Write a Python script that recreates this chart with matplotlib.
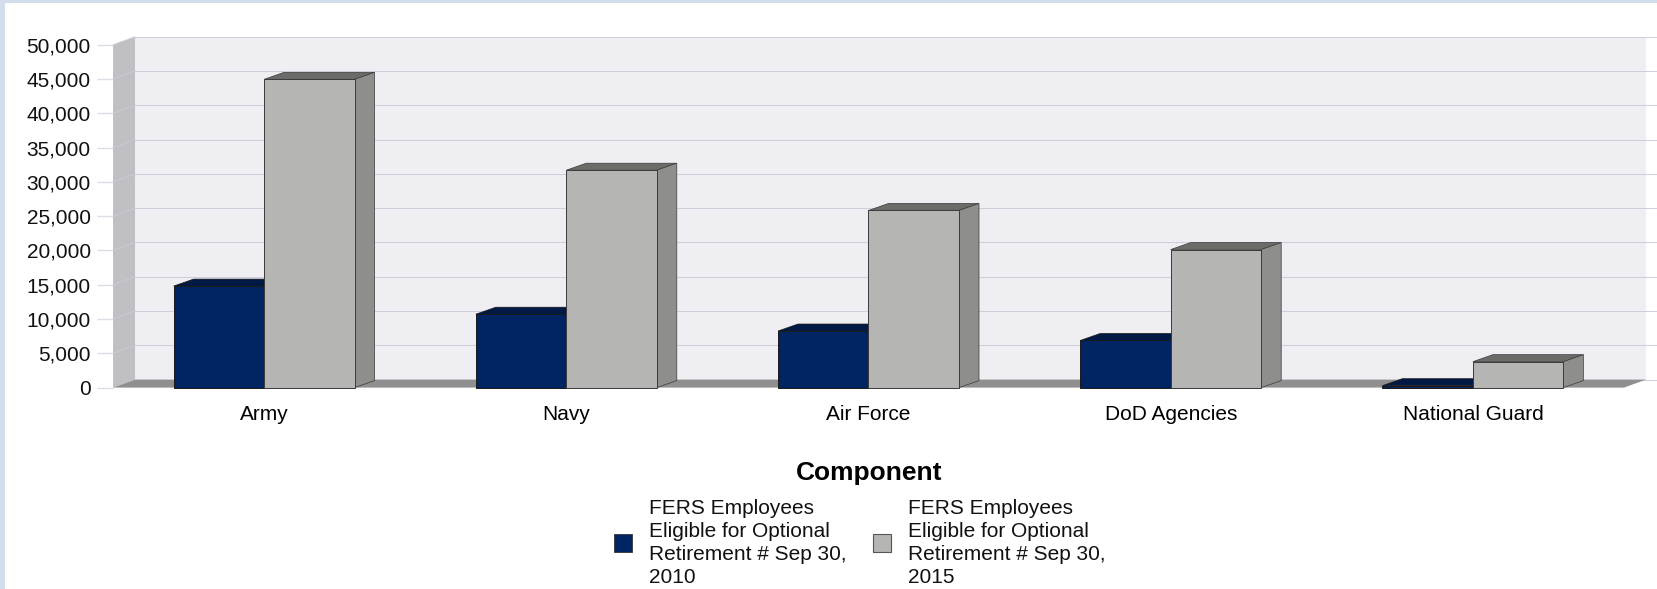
import numpy as np
import matplotlib
matplotlib.use('Agg')
import matplotlib.pyplot as plt
import matplotlib.patches as mplpatches

plt.rcParams['font.family'] = ['Liberation Sans', 'DejaVu Sans']

components = ['Army', 'Navy', 'Air Force', 'DoD Agencies', 'National Guard']
eligible_2010 = [14800, 10700, 8250, 6870, 280]
eligible_2015 = [44950, 31700, 25830, 20130, 3780]
y_ticks = [0, 5000, 10000, 15000, 20000, 25000, 30000, 35000, 40000, 45000, 50000]
legend_2010 = 'FERS Employees\nEligible for Optional\nRetirement # Sep 30,\n2010'
legend_2015 = 'FERS Employees\nEligible for Optional\nRetirement # Sep 30,\n2015'

W = 1658
H = 589
fig = plt.figure(figsize=(W / 100, H / 100), dpi=100, facecolor='white')

# front plane of the fake 3d box, pixels
left, right, top, bottom = 113, 1624, 44.7, 387.6
ax = fig.add_axes([left / W, 1 - bottom / H, (right - left) / W, (bottom - top) / H])
ax.patch.set_visible(False)
ax.set_xlim(-0.5, 4.5)
ax.set_ylim(0, 50000)

px = 5 / (right - left)
py = 50000 / (bottom - top)
wall_dx = 22 * px
wall_dy = 8 * py
bar_dx = 20 * px
bar_dy = 7 * py
bar_w = 90.5 * px


def poly(points, face, edge='none', lw=0, z=1):
    ax.add_patch(mplpatches.Polygon(points, closed=True, facecolor=face, edgecolor=edge,
                                    linewidth=lw, zorder=z, clip_on=False))


x0, x1 = ax.get_xlim()
y1 = ax.get_ylim()[1]
poly([(x0 + wall_dx, wall_dy), (x1 + wall_dx, wall_dy), (x1 + wall_dx, y1 + wall_dy), (x0 + wall_dx, y1 + wall_dy)], '#eeeef3')
poly([(x0, 0), (x0 + wall_dx, wall_dy), (x0 + wall_dx, y1 + wall_dy), (x0, y1)], '#c0c0c4', z=1.5)
poly([(x0, 0), (x1, 0), (x1 + wall_dx, wall_dy), (x0 + wall_dx, wall_dy)], '#8f8f8f', z=2)

for v in y_ticks:
    ax.plot([x0 + wall_dx, x1 + 100 * px], [v + wall_dy, v + wall_dy], color='#d0cedc', lw=0.75, zorder=1.2, clip_on=False)
    if v > 0:
        ax.plot([x0, x0 + wall_dx], [v, v + wall_dy], color='#cfcdda', lw=0.5, zorder=1.6, clip_on=False)


def bar3d(xl, val, front, topc, side, edge):
    xr = xl + bar_w
    poly([(xl, val), (xr, val), (xr + bar_dx, val + bar_dy), (xl + bar_dx, val + bar_dy)], topc, edge, 0.5, 3)
    poly([(xr, 0), (xr + bar_dx, bar_dy), (xr + bar_dx, val + bar_dy), (xr, val)], side, edge, 0.5, 3)
    poly([(xl, 0), (xr, 0), (xr, val), (xl, val)], front, edge, 0.7, 3)


for i in range(len(components)):
    bar3d(i - bar_w, eligible_2010[i], '#002562', '#001a45', '#001a45', '#1a1a1a')
    bar3d(i, eligible_2015[i], '#b5b5b3', '#6b6b69', '#8e8e8c', '#3a3a3a')

ax.set_xticks(range(len(components)))
ax.set_xticklabels(components, fontsize=15)
ax.set_yticks(y_ticks)
ax.set_yticklabels([f'{v:,}' for v in y_ticks], fontsize=15, color='#111111')
ax.tick_params(axis='x', length=0, pad=12.5)
ax.tick_params(axis='y', length=11.5, width=1, color='#dddbe6', pad=4.5)
for s in ax.spines.values():
    s.set_visible(False)

# legend and axis title placed by hand
fig.text(869 / W, 1 - 473 / H, 'Component', fontsize=19, fontweight='bold', ha='center', va='center', color='black')
fig.add_artist(mplpatches.Rectangle((614 / W, 1 - 552 / H), 18 / W, 18 / H, transform=fig.transFigure,
                                    facecolor='#002562', edgecolor='#333333', linewidth=0.6))
fig.add_artist(mplpatches.Rectangle((873.5 / W, 1 - 552 / H), 18 / W, 18 / H, transform=fig.transFigure,
                                    facecolor='#b5b5b3', edgecolor='#555555', linewidth=0.8))
fig.text(649 / W, 1 - 543 / H, legend_2010, fontsize=15, ha='left', va='center', linespacing=1.28, color='#111111')
fig.text(908 / W, 1 - 543 / H, legend_2015, fontsize=15, ha='left', va='center', linespacing=1.28, color='#111111')

# page background peeking in along the top and left edge
fig.add_artist(mplpatches.Rectangle((0, 1 - 3 / H), 1, 3 / H, transform=fig.transFigure, facecolor='#d3ddec', edgecolor='none'))
fig.add_artist(mplpatches.Rectangle((0, 0), 5.5 / W, 1, transform=fig.transFigure, facecolor='#d3ddec', edgecolor='none'))

plt.savefig('out.png', dpi=100)
